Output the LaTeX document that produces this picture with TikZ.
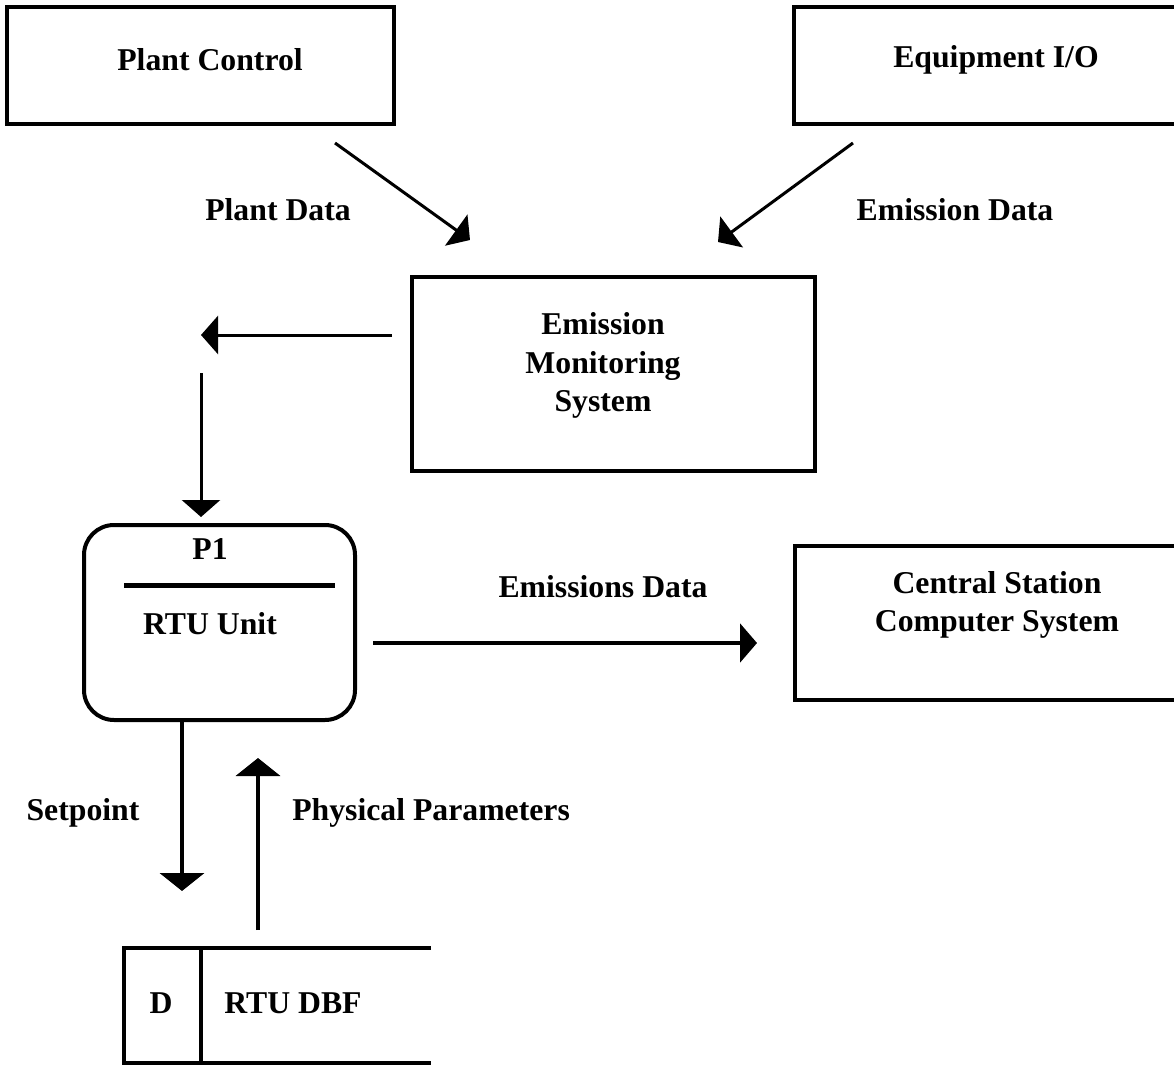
\documentclass[tikz,border=0pt]{standalone}
\usepackage{fontspec}
\setmainfont{Liberation Serif}
\usetikzlibrary{arrows.meta}
\begin{document}
\begin{tikzpicture}[x=0.75pt,y=-0.75pt,
  txt/.style={font=\fontsize{23.8}{28}\selectfont\bfseries, inner sep=0pt, align=center},
  boxnode/.style={draw, line width=3.4pt, rectangle, inner sep=0pt},
  rtubox/.style={draw, line width=3pt, rectangle, rounded corners=22.5pt, inner sep=0pt},
  flow/.style={line width=2.25pt, -{Triangle[length=12.75pt, width=28.5pt]}},
  flowmid/.style={line width=2.6pt, -{Triangle[length=12.75pt, width=29pt]}},
  flowthick/.style={line width=3.4pt, -{Triangle[length=13.5pt, width=33pt]}},
  storeline/.style={line width=3pt}]
\fill[white] (0,0) rectangle (1174,1066);
\clip (0,0) rectangle (1174,1066);

% boxes
\node[boxnode, minimum width=387*0.75pt, minimum height=117*0.75pt] (pc) at (200.5,65.5) {};
\node[txt] (pctxt) at (210,60) {Plant Control};
\node[boxnode, minimum width=386*0.75pt, minimum height=117*0.75pt] (eio) at (987,65.5) {};
\node[txt] (eiotxt) at (996,60) {Equipment I/O};
\node[boxnode, minimum width=403*0.75pt, minimum height=194*0.75pt] (ems) at (613.5,374) {};
\node[txt, text depth=0pt] (emstxt) at (603,362) {Emission\\[1pt]Monitoring\\[1pt]System};
\node[boxnode, minimum width=385*0.75pt, minimum height=154*0.75pt] (css) at (987.5,623) {};
\node[txt] (csstxt) at (997,605) {Central Station\\[1pt]Computer System};

% RTU process
\node[rtubox, minimum width=271*0.75pt, minimum height=195*0.75pt] (rtu) at (219.5,622.5) {};
\node[txt] (p1) at (210,549) {P1};
\draw[line width=3.75pt] (124,585) coordinate (div-l) -- (335,585) coordinate (div-r);
\node[txt] (rtutxt) at (210,624) {RTU Unit};

% data store
\draw[storeline] (431,948) coordinate (st-tr) -- (124,948) coordinate (st-tl) -- (124,1063) coordinate (st-bl) -- (431,1063) coordinate (st-br);
\draw[storeline] (201,948) coordinate (st-dt) -- (201,1063) coordinate (st-db);
\node[txt] (dtxt) at (161,1003) {D};
\node[txt] (dbftxt) at (293,1003) {RTU DBF};

% connectors
\coordinate (pd-s) at (335,143);
\coordinate (pd-e) at (470,240);
\draw[flow] (pd-s) -- (pd-e);
\node[txt] (pdl) at (278,210) {Plant Data};

\coordinate (ed-s) at (853,143);
\coordinate (ed-e) at (718,242);
\draw[flow] (ed-s) -- (ed-e);
\node[txt] (edl) at (955,210) {Emission Data};

\coordinate (ems-o) at (392,335);
\coordinate (ems-t) at (201,335);
\draw[flow] (ems-o) -- (ems-t);

\coordinate (dn-s) at (201,373);
\coordinate (dn-e) at (201,517);
\draw[flow] (dn-s) -- (dn-e);

\coordinate (em-s) at (373,643);
\coordinate (em-e) at (757,643);
\draw[flowmid] (em-s) -- (em-e);
\node[txt] (eml) at (603,587) {Emissions Data};

\coordinate (sp-s) at (182,722);
\coordinate (sp-e) at (182,891);
\draw[flowthick] (sp-s) -- (sp-e);
\node[txt] (spl) at (83,813) {Setpoint};

\coordinate (pp-s) at (258,930);
\coordinate (pp-e) at (258,758);
\draw[flowthick] (pp-s) -- (pp-e);
\node[txt, anchor=west] (ppl) at (292,813) {Physical Parameters};
\end{tikzpicture}
\end{document}
